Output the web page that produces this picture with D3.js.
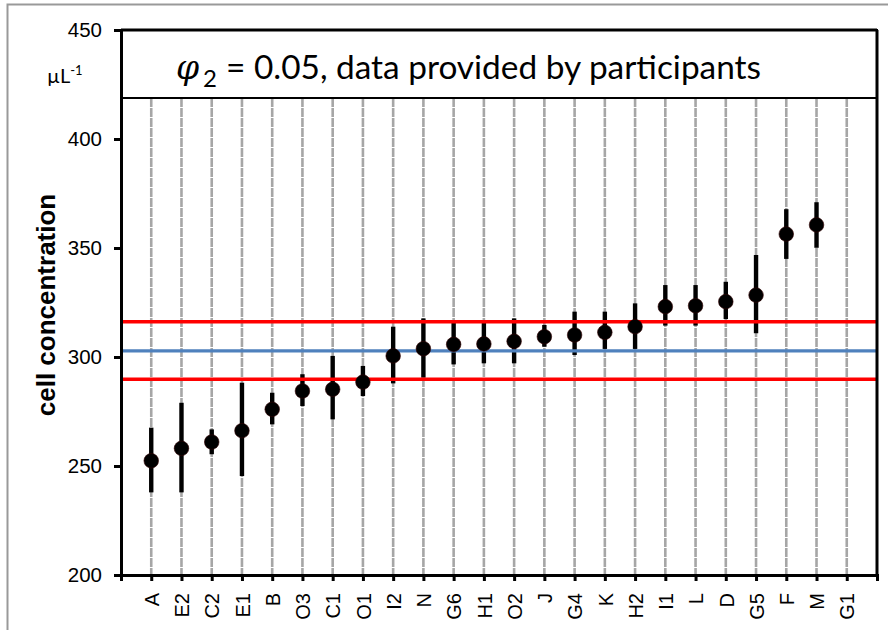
<!DOCTYPE html>
<html>
<head>
<meta charset="utf-8">
<script src="https://cdn.jsdelivr.net/npm/d3@7"></script>
<style>
  html, body { margin: 0; padding: 0; background: #fff; }
  svg { display: block; }
</style>
</head>
<body>
<svg id="chart" width="888" height="630"></svg>
<script>
// Participant labels, ordered by reported mean
const categories = ["A","E2","C2","E1","B","O3","C1","O1","I2","N","G6","H1","O2","J","G4","K","H2","I1","L","D","G5","F","M","G1"];
// Reported mean cell concentration (µL^-1); G1 gave no value
const means = [252.4, 258.1, 261.0, 266.2, 276.0, 284.4, 285.2, 288.5, 300.5, 303.8, 305.8, 306.0, 307.2, 309.3, 310.1, 311.3, 313.9, 323.1, 323.5, 325.4, 328.4, 356.4, 360.6, null];
// Upper and lower ends of each uncertainty bar
const upper = [267.6, 279.0, 266.8, 288.2, 283.6, 292.1, 300.5, 295.9, 313.9, 317.7, 316.2, 316.2, 317.7, 314.7, 320.8, 320.8, 324.6, 333.0, 333.0, 334.5, 346.8, 367.8, 371.0, null];
const lower = [237.9, 237.9, 255.4, 245.4, 269.1, 277.5, 271.4, 282.1, 287.9, 290.5, 296.6, 297.1, 297.1, 304.7, 300.9, 303.7, 303.7, 314.4, 314.4, 317.4, 310.9, 345.0, 350.1, null];
// Consensus value and its band
const refMean = [302.8];
const refBand = [289.8, 316.2];
const yTicks = [200, 250, 300, 350, 400, 450];

const svg = d3.select("#chart");
const W = 888, H = 630;
const margin = { top: 30, right: 11, bottom: 55, left: 121 };
const x0 = margin.left, x1 = W - margin.right;
const yTop = margin.top, yBot = H - margin.bottom;

const x = d3.scalePoint().domain(categories).range([x0, x1]).padding(1);
const y = d3.scaleLinear().domain([200, 450]).range([yBot, yTop]);

// outer gray frame
svg.append("rect")
  .attr("x", 7.5).attr("y", 4.5).attr("width", 920).attr("height", 700)
  .attr("fill", "none").attr("stroke", "#999").attr("stroke-width", 2);

const boxBottom = 98;

// vertical dashed gridlines
svg.append("g").selectAll("line").data(categories).join("line")
  .attr("x1", d => x(d)).attr("x2", d => x(d))
  .attr("y1", boxBottom).attr("y2", yBot)
  .attr("stroke", "#a6a6a6").attr("stroke-width", 2.6)
  .attr("stroke-dasharray", "9,1");

const pts = categories.map((c, i) => ({ c, m: means[i], hi: upper[i], lo: lower[i] }))
  .filter(d => d.m != null);

// uncertainty bars
svg.append("g").selectAll("line").data(pts).join("line")
  .attr("x1", d => x(d.c)).attr("x2", d => x(d.c))
  .attr("y1", d => y(d.hi)).attr("y2", d => y(d.lo))
  .attr("stroke", "#000").attr("stroke-width", 4.4);

// reference lines
const refs = [
  { v: refBand[0], color: "#ff0000" },
  { v: refBand[1], color: "#ff0000" },
  { v: refMean[0], color: "#4f81bd" }
];
svg.append("g").selectAll("line").data(refs).join("line")
  .attr("x1", x0).attr("x2", x1)
  .attr("y1", d => y(d.v)).attr("y2", d => y(d.v))
  .attr("stroke", d => d.color).attr("stroke-width", 3.4);

// means
svg.append("g").selectAll("circle").data(pts).join("circle")
  .attr("cx", d => x(d.c)).attr("cy", d => y(d.m)).attr("r", 7.3)
  .attr("fill", "#000").attr("stroke", "#300").attr("stroke-width", 0.6);

// title box
svg.append("rect")
  .attr("x", x0).attr("y", yTop).attr("width", x1 - x0).attr("height", boxBottom - yTop)
  .attr("fill", "#fff").attr("stroke", "#000").attr("stroke-width", 2);

const title = svg.append("text").attr("y", 79).attr("fill", "#000");
title.append("tspan").attr("x", 176)
  .style("font-family", "'DejaVu Serif', 'Liberation Serif', serif")
  .style("font-style", "italic").style("font-size", "33px").text("φ");
title.append("tspan").attr("x", 203).attr("dy", 8)
  .style("font-family", "Lato, 'Open Sans', sans-serif").style("font-size", "24px").text("2");
title.append("tspan").attr("x", 226).attr("dy", -8)
  .style("font-family", "Lato, 'Open Sans', sans-serif").style("font-size", "33.4px")
  .text("= 0.05, data provided by participants");

// right and top frame of the plot area
svg.append("line").attr("x1", x1).attr("x2", x1).attr("y1", yTop).attr("y2", yBot)
  .attr("stroke", "#000").attr("stroke-width", 3);
svg.append("line").attr("x1", x0).attr("x2", x1).attr("y1", yTop).attr("y2", yTop)
  .attr("stroke", "#000").attr("stroke-width", 3);

// y axis
const yAxis = svg.append("g").attr("transform", `translate(${x0},0)`)
  .call(d3.axisLeft(y).tickValues(yTicks).tickSize(7).tickSizeOuter(0).tickPadding(12).tickFormat(d3.format("d")));
yAxis.select(".domain").attr("stroke-width", 3);
yAxis.selectAll(".tick line").attr("stroke-width", 3);
yAxis.selectAll("text").style("font-family", "'Liberation Sans', Arial, sans-serif").style("font-size", "20.5px").attr("fill", "#000");

// x axis
const xAxis = svg.append("g").attr("transform", `translate(0,${yBot})`)
  .call(d3.axisBottom(x).tickSize(6).tickSizeOuter(6).tickPadding(0));
xAxis.select(".domain").attr("stroke-width", 3);
xAxis.selectAll(".tick line").attr("stroke-width", 3);
xAxis.selectAll("text")
  .attr("transform", "rotate(-90)")
  .attr("x", -18).attr("y", 0).attr("dy", "0.36em")
  .style("text-anchor", "end")
  .style("font-family", "'Liberation Sans', Arial, sans-serif").style("font-size", "20px").attr("fill", "#000");

// unit label
const unit = svg.append("text").attr("x", 47).attr("y", 83)
  .style("font-family", "Lato, 'Open Sans', sans-serif").style("font-size", "20px").attr("fill", "#000");
unit.append("tspan").text("µL");
unit.append("tspan").attr("dy", -8).style("font-size", "13px").text("-1");

// y axis title
svg.append("text")
  .attr("transform", "translate(55,305) rotate(-90)")
  .style("text-anchor", "middle")
  .style("font-family", "'Liberation Sans', Arial, sans-serif").style("font-weight", "bold").style("font-size", "26px")
  .attr("fill", "#000")
  .text("cell concentration");
</script>
</body>
</html>
